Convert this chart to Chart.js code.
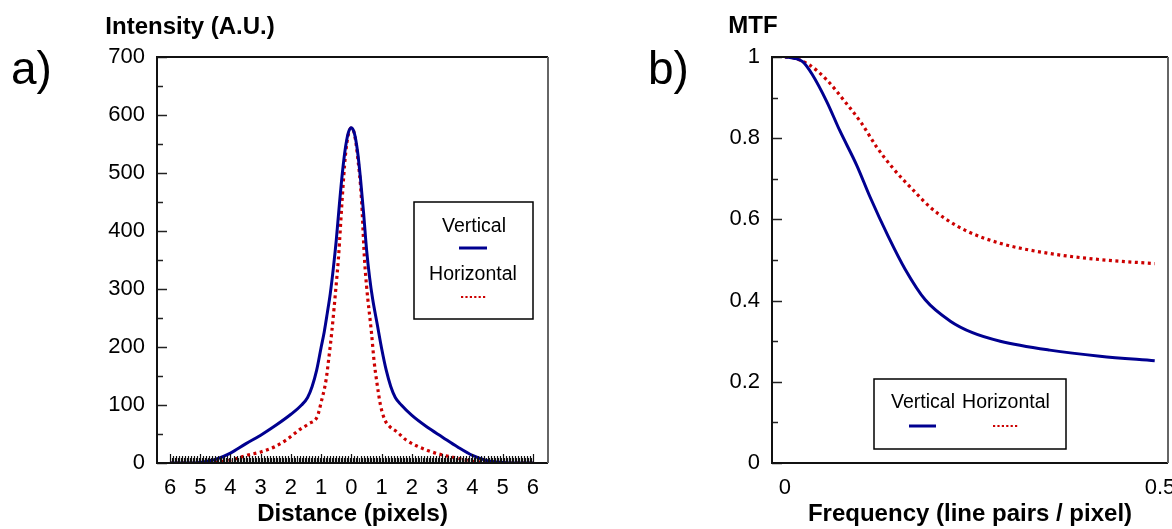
<!DOCTYPE html>
<html>
<head>
<meta charset="utf-8">
<script src="https://cdn.jsdelivr.net/npm/chart.js@4.4.0/dist/chart.umd.min.js"></script>
<style>
  html, body { margin: 0; padding: 0; background: #fff; }
  #wrap { position: relative; width: 1172px; height: 529px; overflow: hidden; }
  #wrap canvas { position: absolute; top: 0; }
</style>
</head>
<body>
<div id="wrap">
  <canvas id="graficoPsf" width="590" height="529" style="left:0"></canvas>
  <canvas id="graficoMtf" width="582" height="529" style="left:590px"></canvas>
</div>
<script>
// a) line spread profiles
const vertDist = [-6, -5.5, -5, -4.5, -4, -3.5, -3, -2.5, -2, -1.65, -1.45, -1.3, -1.15, -1, -0.9, -0.8,
    -0.7, -0.6, -0.5, -0.4, -0.3, -0.2, -0.1, 0, 0.1, 0.2, 0.3, 0.4, 0.5, 0.6, 0.7,
    0.85, 1, 1.15, 1.3, 1.45, 1.65, 2, 2.5, 3, 3.5, 4, 4.5, 5, 5.5, 6];
const vertIntensity = [0, 0, 1, 6, 17, 33, 48, 65, 84, 100, 113, 132, 160, 200, 226, 258,
    292, 335, 385, 445, 500, 543, 570, 578, 568, 538, 490, 432, 368, 320, 283,
    240, 197, 160, 132, 113, 100, 82, 62, 45, 28, 13, 4, 1, 0, 0];

const horzDist = [-6, -5, -4.5, -4, -3.4, -3, -2.5, -2.15, -1.7, -1.4, -1.13, -1, -0.84, -0.75,
    -0.65, -0.5, -0.43, -0.3, -0.2, -0.1, 0, 0.1, 0.2, 0.33, 0.43, 0.5, 0.66, 0.75,
    0.83, 0.96, 1.1, 1.26, 1.5, 1.8, 2.5, 3, 3.35, 4, 4.5, 5, 6];
const horzIntensity = [0, 0, 1, 5, 14, 19, 29, 40, 58, 68, 80, 105, 143, 180,
    226, 310, 353, 460, 530, 567, 578, 567, 530, 457, 353, 305, 226, 175,
    143, 100, 75, 63, 54, 40, 22, 14, 10, 3, 1, 0, 0];

const distTicks = [-6, -5, -4, -3, -2, -1, 0, 1, 2, 3, 4, 5, 6];
const intensityTicks = [0, 100, 200, 300, 400, 500, 600, 700];

// b) MTF
const freqVert = [0, 0.012, 0.024, 0.036, 0.056, 0.073, 0.096, 0.113, 0.138, 0.16, 0.187,
    0.22, 0.25, 0.287, 0.353, 0.42, 0.493];
const mtfVert = [1, 0.997, 0.988, 0.958, 0.889, 0.819, 0.732, 0.657, 0.557, 0.478, 0.402,
    0.35, 0.321, 0.3, 0.278, 0.263, 0.252];

const freqHorz = [0, 0.011, 0.033, 0.056, 0.08, 0.102, 0.122, 0.144, 0.171, 0.193, 0.216,
    0.244, 0.287, 0.353, 0.42, 0.493];
const mtfHorz = [1, 0.998, 0.98, 0.943, 0.89, 0.837, 0.779, 0.726, 0.672, 0.631, 0.599,
    0.57, 0.541, 0.516, 0.501, 0.491];

const freqTicks = [0, 0.5];
const mtfTicks = [0, 0.2, 0.4, 0.6, 0.8, 1];

const seriesNames = ['Vertical', 'Horizontal'];
const cores = ['#000090', '#cc0000'];

const FONTE = "'Liberation Sans', Arial, sans-serif";

function toPoints(xs, ys) {
    return xs.map((x, i) => ({ x: x, y: ys[i] }));
}

function midpoints(values) {
    const res = [];
    for (let i = 0; i < values.length - 1; i++) res.push((values[i] + values[i + 1]) / 2);
    return res;
}

// frame, inward ticks, titles and the boxed legends
const extrasPlugin = {
    id: 'extras',
    afterDraw(chart, args, opts) {
        const ctx = chart.ctx;
        const area = chart.chartArea;
        const xs = chart.scales.x;
        const ys = chart.scales.y;
        ctx.save();

        // y ticks pointing inwards
        ctx.strokeStyle = '#222';
        ctx.lineWidth = 1.5;
        opts.yTicks.forEach(v => {
            const py = Math.round(ys.getPixelForValue(v)) + 0.5;
            ctx.beginPath();
            ctx.moveTo(area.left, py);
            ctx.lineTo(area.left + 10, py);
            ctx.stroke();
        });
        midpoints(opts.yTicks).forEach(v => {
            const py = Math.round(ys.getPixelForValue(v)) + 0.5;
            ctx.beginPath();
            ctx.moveTo(area.left, py);
            ctx.lineTo(area.left + 6, py);
            ctx.stroke();
        });

        // rug of sample ticks along the bottom axis
        if (opts.rug) {
            ctx.lineWidth = 1.2;
            ctx.strokeStyle = '#111';
            for (let i = -120; i <= 120; i++) {
                const px = Math.round(xs.getPixelForValue(i / 20)) + 0.5;
                const h = (i % 20 === 0) ? 9 : (i % 2 === 0 ? 7 : 5);
                ctx.beginPath();
                ctx.moveTo(px, area.bottom);
                ctx.lineTo(px, area.bottom - h);
                ctx.stroke();
            }
        }

        // frame
        ctx.lineWidth = 2;
        ctx.strokeStyle = '#111';
        ctx.beginPath();
        ctx.moveTo(area.right, area.top);
        ctx.lineTo(area.left, area.top);
        ctx.lineTo(area.left, area.bottom);
        ctx.lineTo(area.right, area.bottom);
        ctx.stroke();
        ctx.strokeStyle = '#666';
        ctx.beginPath();
        ctx.moveTo(area.right, area.top);
        ctx.lineTo(area.right, area.bottom);
        ctx.stroke();

        // panel label and y title
        ctx.fillStyle = '#000';
        ctx.textBaseline = 'alphabetic';
        ctx.textAlign = 'left';
        ctx.font = '46px ' + FONTE;
        ctx.fillText(opts.panel.text, opts.panel.x, opts.panel.y);
        ctx.textAlign = 'center';
        ctx.textBaseline = 'middle';
        ctx.font = 'bold 24px ' + FONTE;
        ctx.fillText(opts.yTitle.text, opts.yTitle.x, opts.yTitle.y);

        // legend box
        const lg = opts.legend;
        ctx.lineWidth = 1.5;
        ctx.strokeStyle = '#000';
        ctx.strokeRect(lg.box[0], lg.box[1], lg.box[2], lg.box[3]);
        ctx.font = '19.5px ' + FONTE;
        lg.items.forEach((it, i) => {
            const ds = chart.data.datasets[i];
            ctx.fillStyle = '#000';
            ctx.fillText(ds.label, it.tx, it.ty);
            ctx.strokeStyle = ds.borderColor;
            ctx.lineWidth = ds.borderDash ? 2.2 : 3;
            ctx.setLineDash(ds.borderDash ? [2.2, 2.2] : []);
            ctx.beginPath();
            ctx.moveTo(it.l0, it.ly);
            ctx.lineTo(it.l1, it.ly);
            ctx.stroke();
            ctx.setLineDash([]);
        });
        ctx.restore();
    }
};

function criarDatasets(xA, yA, xB, yB) {
    return [
        {
            label: seriesNames[0],
            data: toPoints(xA, yA),
            borderColor: cores[0],
            borderWidth: 3,
            pointRadius: 0,
            fill: false,
            cubicInterpolationMode: 'monotone'
        },
        {
            label: seriesNames[1],
            data: toPoints(xB, yB),
            borderColor: cores[1],
            borderWidth: 3.2,
            borderDash: [3, 3.5],
            pointRadius: 0,
            fill: false,
            cubicInterpolationMode: 'monotone'
        }
    ];
}

function eixoX(min, max, tickVals, titulo, cb) {
    return {
        type: 'linear',
        min: min,
        max: max,
        afterBuildTicks: s => { s.ticks = tickVals.map(v => ({ value: v })); },
        afterFit: s => { s.height = 66; s.paddingLeft = 0; s.paddingRight = 0; },
        grid: { display: false, drawTicks: false },
        border: { display: false },
        ticks: {
            padding: 12,
            autoSkip: false,
            maxRotation: 0,
            color: '#000',
            font: { family: FONTE, size: 22 },
            callback: cb
        },
        title: {
            display: true,
            text: titulo,
            color: '#000',
            font: { family: FONTE, size: 24, weight: 'bold' },
            padding: { top: 0, bottom: 0 }
        }
    };
}

function eixoY(min, max, tickVals, largura) {
    return {
        min: min,
        max: max,
        afterBuildTicks: s => { s.ticks = tickVals.map(v => ({ value: v })); },
        afterFit: s => { s.width = largura; },
        grid: { display: false, drawTicks: false },
        border: { display: false },
        ticks: {
            padding: 12,
            color: '#000',
            font: { family: FONTE, size: 22 },
            callback: v => String(Math.round(v * 10) / 10)
        }
    };
}

new Chart(document.getElementById('graficoPsf'), {
    type: 'line',
    data: { datasets: criarDatasets(vertDist, vertIntensity, horzDist, horzIntensity) },
    options: {
        responsive: false,
        animation: false,
        layout: { padding: { left: 0, right: 42, top: 57, bottom: 0 } },
        plugins: {
            legend: { display: false },
            tooltip: { enabled: false },
            extras: {
                yTicks: intensityTicks,
                rug: true,
                panel: { text: 'a)', x: 11, y: 84 },
                yTitle: { text: 'Intensity (A.U.)', x: 190, y: 27 },
                legend: {
                    box: [414, 202, 119, 117],
                    items: [
                        { tx: 474, ty: 227, l0: 459, l1: 487, ly: 248 },
                        { tx: 473, ty: 275, l0: 461, l1: 487, ly: 297 }
                    ]
                }
            }
        },
        scales: {
            x: eixoX(-6.43, 6.5, distTicks, 'Distance (pixels)', v => Math.abs(v)),
            y: eixoY(0, 700, intensityTicks, 157)
        }
    },
    plugins: [extrasPlugin]
});

new Chart(document.getElementById('graficoMtf'), {
    type: 'line',
    data: { datasets: criarDatasets(freqVert, mtfVert, freqHorz, mtfHorz) },
    options: {
        responsive: false,
        animation: false,
        layout: { padding: { left: 0, right: 4, top: 57, bottom: 0 } },
        plugins: {
            legend: { display: false },
            tooltip: { enabled: false },
            extras: {
                yTicks: mtfTicks,
                rug: false,
                panel: { text: 'b)', x: 58, y: 84 },
                yTitle: { text: 'MTF', x: 163, y: 26 },
                legend: {
                    box: [284, 379, 192, 70],
                    items: [
                        { tx: 333, ty: 403, l0: 319, l1: 346, ly: 426 },
                        { tx: 416, ty: 403, l0: 403, l1: 429, ly: 426 }
                    ]
                }
            }
        },
        scales: {
            x: eixoX(-0.0173, 0.5107, freqTicks, 'Frequency (line pairs / pixel)', v => String(v)),
            y: eixoY(0, 1, mtfTicks, 182)
        }
    },
    plugins: [extrasPlugin]
});
</script>
</body>
</html>
